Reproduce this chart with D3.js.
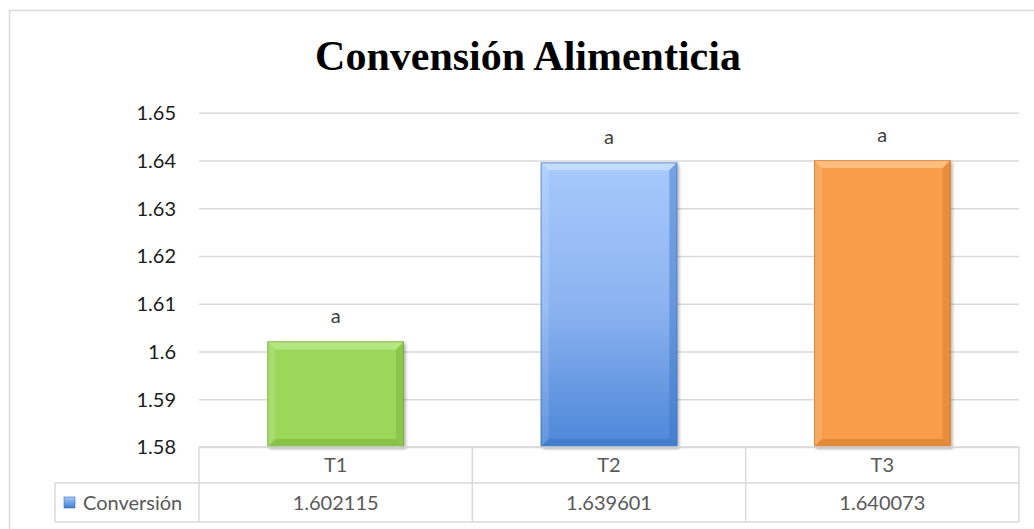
<!DOCTYPE html>
<html>
<head>
<meta charset="utf-8">
<script src="https://cdn.jsdelivr.net/npm/d3@7"></script>
<style>
  html, body { margin: 0; padding: 0; background: #fff; }
  svg { display: block; }
</style>
</head>
<body>
<svg id="chart" width="1034" height="529"></svg>
<script>
// Data
const categories = ["T1", "T2", "T3"];
const values = [1.602115, 1.639601, 1.640073];
const valueLabels = ["1.602115", "1.639601", "1.640073"];
const significance = ["a", "a", "a"];
const seriesName = "Conversión";
const yTicks = [1.58, 1.59, 1.6, 1.61, 1.62, 1.63, 1.64, 1.65];
const yTickLabels = ["1.58", "1.59", "1.6", "1.61", "1.62", "1.63", "1.64", "1.65"];
const chartTitle = "Convensión Alimenticia";

// Per-bar colour themes: base, light edge, dark edge, outline
const barThemes = [
  { base: "#9bd85a", light: "#b9e886", dark: "#79b23b", line: "#6f9e39", grad: null },
  { base: "#7eaaee", light: "#c6defd", dark: "#3c74c4", line: "#3a6db8", grad: ["#a7cafc", "#8db4f1", "#4c87d8"] },
  { base: "#f89e4c", light: "#fcc085", dark: "#d27a2a", line: "#c47326", grad: null }
];

const svg = d3.select("#chart");
const font = "Lato, 'Noto Sans', sans-serif";
const gridColor = "#d9d9d9";

const plotLeft = 199, plotRight = 1019, plotTop = 112.7, plotBottom = 447;
const tableMid = 483, tableBottom = 522, legendLeft = 55;

const x = d3.scaleBand().domain(categories).range([plotLeft, plotRight])
  .paddingInner(0.5).paddingOuter(0.25);
const y = d3.scaleLinear().domain([1.58, 1.65]).range([plotBottom, plotTop]);

const defs = svg.append("defs");
const shadow = defs.append("filter").attr("id", "barShadow")
  .attr("x", "-10%").attr("y", "-10%").attr("width", "130%").attr("height", "130%");
shadow.append("feDropShadow").attr("dx", 2).attr("dy", 2)
  .attr("stdDeviation", 1.6).attr("flood-color", "#000").attr("flood-opacity", 0.28);

barThemes.forEach((t, i) => {
  if (!t.grad) return;
  const g = defs.append("linearGradient").attr("id", "barGrad" + i)
    .attr("x1", 0).attr("y1", 0).attr("x2", 0).attr("y2", 1);
  g.append("stop").attr("offset", "0%").attr("stop-color", t.grad[0]);
  g.append("stop").attr("offset", "50%").attr("stop-color", t.grad[1]);
  g.append("stop").attr("offset", "100%").attr("stop-color", t.grad[2]);
});
const legGrad = defs.append("linearGradient").attr("id", "legendGrad")
  .attr("x1", 0).attr("y1", 0).attr("x2", 0).attr("y2", 1);
legGrad.append("stop").attr("offset", "0%").attr("stop-color", "#a7cafc");
legGrad.append("stop").attr("offset", "100%").attr("stop-color", "#3f7bcf");

// Outer chart frame
svg.append("rect")
  .attr("x", 9.5).attr("y", 10.5).attr("width", 1040).attr("height", 540)
  .attr("fill", "#fff").attr("stroke", gridColor).attr("stroke-width", 1.5);

// Title
svg.append("text")
  .attr("x", 528).attr("y", 70)
  .attr("text-anchor", "middle")
  .attr("font-family", "'Liberation Serif', 'Times New Roman', serif")
  .attr("font-weight", "bold")
  .attr("font-size", 42)
  .attr("fill", "#000")
  .text(chartTitle);

// Gridlines
svg.append("g")
  .attr("transform", `translate(${plotLeft},0)`)
  .call(d3.axisLeft(y).tickValues(yTicks).tickSize(-(plotRight - plotLeft)).tickFormat(""))
  .call(g => g.select(".domain").remove())
  .call(g => g.selectAll("line").attr("stroke", gridColor).attr("stroke-width", 1.5));

// Y tick labels
svg.append("g")
  .attr("transform", `translate(176,0)`)
  .call(d3.axisLeft(y).tickValues(yTicks).tickSize(0).tickPadding(0)
    .tickFormat((d, i) => yTickLabels[i]))
  .call(g => g.select(".domain").remove())
  .call(g => g.selectAll("text")
    .attr("font-family", font).attr("font-size", 20).attr("fill", "#1a1a1a")
    .attr("dy", "0.34em"));

// Bars with bevelled edges
const bev = 8;
const bars = svg.append("g").selectAll("g.bar")
  .data(categories.map((c, i) => ({ c, v: values[i], t: barThemes[i], i })))
  .join("g").attr("class", "bar");

bars.each(function (d) {
  const g = d3.select(this);
  const x0 = x(d.c), x1 = x0 + x.bandwidth();
  const y0 = y(d.v), y1 = y(1.58);
  const fill = d.t.grad ? `url(#barGrad${d.i})` : d.t.base;
  g.append("rect")
    .attr("x", x0).attr("y", y0).attr("width", x1 - x0).attr("height", y1 - y0)
    .attr("fill", fill).attr("filter", "url(#barShadow)");
  const poly = (pts, color, op) => g.append("polygon")
    .attr("points", pts.map(p => p.join(",")).join(" "))
    .attr("fill", color).attr("fill-opacity", op);
  // top
  poly([[x0, y0], [x1, y0], [x1 - bev, y0 + bev], [x0 + bev, y0 + bev]], d.t.light, 0.9);
  // left
  poly([[x0, y0], [x0 + bev, y0 + bev], [x0 + bev, y1 - bev], [x0, y1]], "#ffffff", 0.12);
  // right
  poly([[x1, y0], [x1, y1], [x1 - bev, y1 - bev], [x1 - bev, y0 + bev]], d.t.dark, 0.45);
  // bottom
  poly([[x0, y1], [x0 + bev, y1 - bev], [x1 - bev, y1 - bev], [x1, y1]], d.t.dark, 0.55);
  g.append("rect")
    .attr("x", x0 + 0.5).attr("y", y0 + 0.5).attr("width", x1 - x0 - 1).attr("height", y1 - y0 - 1)
    .attr("fill", "none").attr("stroke", d.t.line).attr("stroke-opacity", 0.6);
});

// Significance letters above bars
svg.append("g").selectAll("text")
  .data(categories)
  .join("text")
  .attr("x", d => x(d) + x.bandwidth() / 2)
  .attr("y", (d, i) => y(values[i]) - 18)
  .attr("text-anchor", "middle")
  .attr("font-family", font).attr("font-size", 20).attr("fill", "#404040")
  .text((d, i) => significance[i]);

// Data table
const step = x.step();
const colEdges = categories.map(c => x(c) - x.paddingInner() * step / 2);
colEdges.push(plotRight);
const table = svg.append("g").attr("stroke", gridColor).attr("stroke-width", 1.5);
table.append("line").attr("x1", plotLeft).attr("x2", plotRight).attr("y1", plotBottom).attr("y2", plotBottom);
table.append("line").attr("x1", legendLeft).attr("x2", plotRight).attr("y1", tableMid).attr("y2", tableMid);
table.append("line").attr("x1", legendLeft).attr("x2", plotRight).attr("y1", tableBottom).attr("y2", tableBottom);
table.append("line").attr("x1", legendLeft).attr("x2", legendLeft).attr("y1", tableMid).attr("y2", tableBottom);
table.selectAll("line.col").data(colEdges).join("line").attr("class", "col")
  .attr("x1", d => d).attr("x2", d => d).attr("y1", plotBottom).attr("y2", tableBottom);

// Category names
svg.append("g").selectAll("text").data(categories).join("text")
  .attr("x", d => x(d) + x.bandwidth() / 2)
  .attr("y", (plotBottom + tableMid) / 2)
  .attr("dy", "0.36em")
  .attr("text-anchor", "middle")
  .attr("font-family", font).attr("font-size", 20).attr("fill", "#595959")
  .text(d => d);

// Values row
svg.append("g").selectAll("text").data(categories).join("text")
  .attr("x", d => x(d) + x.bandwidth() / 2)
  .attr("y", (tableMid + tableBottom) / 2)
  .attr("dy", "0.36em")
  .attr("text-anchor", "middle")
  .attr("font-family", font).attr("font-size", 20).attr("fill", "#595959")
  .text((d, i) => valueLabels[i]);

// Legend key in table
svg.append("rect")
  .attr("x", 64).attr("y", 497).attr("width", 11).attr("height", 11)
  .attr("fill", "url(#legendGrad)").attr("stroke", "#3a6db8").attr("stroke-width", 0.6);
svg.append("text")
  .attr("x", 83).attr("y", (tableMid + tableBottom) / 2)
  .attr("dy", "0.36em")
  .attr("font-family", font).attr("font-size", 20).attr("fill", "#595959")
  .text(seriesName);
</script>
</body>
</html>
